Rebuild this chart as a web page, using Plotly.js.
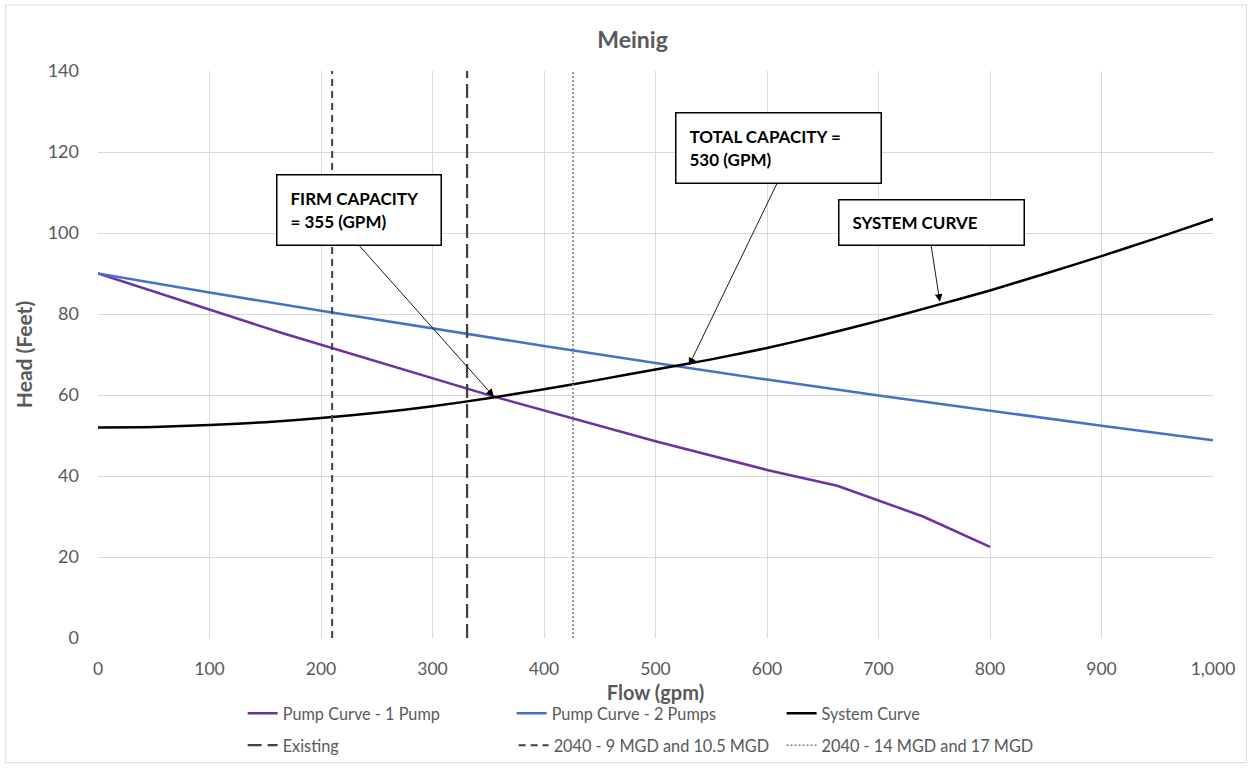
<!DOCTYPE html>
<html>
<head>
<meta charset="utf-8">
<script src="https://cdn.plot.ly/plotly-3.0.1.min.js"></script>
<style>
  html, body { margin: 0; padding: 0; background: #ffffff; }
  #chart { width: 1251px; height: 770px; }
</style>
</head>
<body>
<div id="chart"></div>
<script>
// Pump curve – one pump running (flow in gpm, head in feet)
const onePumpFlow = [0, 165, 355, 500, 600, 663, 740, 800];
const onePumpHead = [90, 75.3, 59.6, 48.6, 41.5, 37.6, 30, 22.5];

// Pump curve – two pumps running
const twoPumpFlow = [0, 100, 200, 300, 400, 500, 600, 700, 800, 900, 1000];
const twoPumpHead = [90, 85.3, 80.8, 76.4, 72.1, 67.9, 63.8, 59.9, 56.1, 52.4, 48.8];

// System curve
const systemFlow = [0, 50, 100, 150, 200, 250, 300, 350, 400, 450, 500, 550, 600, 650, 700, 750, 800, 850, 900, 950, 1000];
const systemHead = [52, 52.1, 52.6, 53.3, 54.3, 55.6, 57.2, 59.2, 61.4, 63.8, 66.3, 68.8, 71.6, 74.8, 78.3, 82, 85.8, 90, 94.3, 98.8, 103.5];

// Design flows drawn as vertical reference lines (gpm)
const existingFlow = 331;
const flow2040Low = 210;   // 2040 - 9 MGD and 10.5 MGD
const flow2040High = 426;  // 2040 - 14 MGD and 17 MGD
const headRange = [0, 140];

// Capacity call-outs
const firmCapacity = 355;
const firmHead = 59.6;
const totalCapacity = 530;
const totalHead = 67.3;
const systemLabelFlow = 755;
const systemLabelHead = 83;

const FONT = 'Lato, "Open Sans", sans-serif';
const GREY = '#595959';

const traces = [
  { x: onePumpFlow, y: onePumpHead, name: 'Pump Curve - 1 Pump', mode: 'lines',
    line: { color: '#7030A0', width: 2.5 }, legend: 'legend' },
  { x: twoPumpFlow, y: twoPumpHead, name: 'Pump Curve - 2 Pumps', mode: 'lines',
    line: { color: '#4472C4', width: 2.5 }, legend: 'legend2' },
  { x: systemFlow, y: systemHead, name: 'System Curve', mode: 'lines', line: { shape: 'spline', smoothing: 0.6,
    color: '#000000', width: 2.5 }, legend: 'legend3' },
  { x: [existingFlow, existingFlow], y: headRange, name: 'Existing', mode: 'lines',
    line: { color: '#404040', width: 2.25, dash: '14px,6px' }, legend: 'legend4' },
  { x: [flow2040Low, flow2040Low], y: headRange, name: '2040 - 9 MGD and 10.5 MGD', mode: 'lines',
    line: { color: '#404040', width: 2, dash: '7px,5px' }, legend: 'legend5' },
  { x: [flow2040High, flow2040High], y: headRange, name: '2040 - 14 MGD and 17 MGD', mode: 'lines',
    line: { color: '#7f7f7f', width: 1.5, dash: '2px,2px' }, legend: 'legend6' }
];

// plot area in pixels: left 98, right 1213.5, top 71, bottom 638.3
const PL = 98.3, PW = 1115.2, PT = 71, PH = 567.3;
const px = v => (v - PL) / PW;
const py = v => (PT + PH - v) / PH;

function legendAt(xPix, yPix) {
  return {
    orientation: 'h', x: px(xPix), y: py(yPix), xanchor: 'left', yanchor: 'middle',
    bgcolor: 'rgba(0,0,0,0)', font: { family: FONT, size: 16.3, color: GREY },
    itemwidth: 30
  };
}

function box(x, y, text, w, h) {
  return {
    x: x, y: y, xref: 'x', yref: 'y', xanchor: 'left', yanchor: 'top',
    text: text, showarrow: false, align: 'left', valign: 'middle',
    width: w, height: h, borderpad: 13,
    bgcolor: '#ffffff', bordercolor: '#000000', borderwidth: 1.5,
    font: { family: FONT, size: 17, color: '#000000', weight: 'bold' }
  };
}

function arrow(tipX, tipY, tailX, tailY) {
  return {
    x: tipX, y: tipY, xref: 'x', yref: 'y', axref: 'x', ayref: 'y',
    ax: tailX, ay: tailY, text: '', showarrow: true,
    arrowhead: 2, arrowsize: 1.7, arrowwidth: 0.9, arrowcolor: '#000000'
  };
}

const layout = {
  width: 1251, height: 770,
  margin: { l: 98, r: 38, t: 71, b: 132, autoexpand: false },
  paper_bgcolor: '#ffffff', plot_bgcolor: '#ffffff',
  font: { family: FONT, color: GREY },
  showlegend: true,
  title: { text: '<b>Meinig</b>', x: px(633), xref: 'paper', xanchor: 'center', y: 0.948, yanchor: 'middle',
           font: { family: FONT, size: 23, color: GREY } },
  xaxis: {
    range: [0, 1000], dtick: 100, tickformat: ',d',
    showgrid: true, gridcolor: '#d9d9d9', gridwidth: 1,
    zeroline: false, showline: false, ticks: '', ticklabelstandoff: 18,
    tickfont: { family: FONT, size: 17.5, color: GREY },
    title: { text: '<b>Flow (gpm)</b>', standoff: 8, font: { family: FONT, size: 20, color: GREY } }
  },
  yaxis: {
    range: [0, 140], dtick: 20,
    showgrid: true, gridcolor: '#d9d9d9', gridwidth: 1,
    zeroline: false, showline: false, ticks: '', ticklabelstandoff: 18,
    tickfont: { family: FONT, size: 18, color: GREY },
    title: { text: '<b>Head (Feet)</b>', standoff: 9, font: { family: FONT, size: 21, color: GREY } }
  },
  legend: legendAt(243, 714),
  legend2: legendAt(512, 714),
  legend3: legendAt(782, 714),
  legend4: legendAt(243, 746),
  legend5: legendAt(514, 746),
  legend6: legendAt(782, 746),
  annotations: [
    box(160, 114.5, '<b>FIRM CAPACITY<br>= 355 (GPM)</b>', 137, 43),
    box(517.6, 129.9, '<b>TOTAL CAPACITY =<br>530 (GPM)</b>', 178, 43),
    box(664, 108.5, '<b>SYSTEM CURVE</b>', 158, 18),
    arrow(firmCapacity, firmHead, 233, 97.3),
    arrow(totalCapacity, totalHead, 609.6, 112.6),
    arrow(systemLabelFlow, systemLabelHead, 747, 97.3)
  ],
  shapes: [
    { type: 'rect', xref: 'paper', yref: 'paper', layer: 'below',
      x0: px(6), x1: px(1247), y0: py(763), y1: py(5),
      line: { color: '#d9d9d9', width: 1 }, fillcolor: 'rgba(0,0,0,0)' }
  ]
};

Plotly.newPlot('chart', traces, layout, { displayModeBar: false, staticPlot: true });
</script>
</body>
</html>
